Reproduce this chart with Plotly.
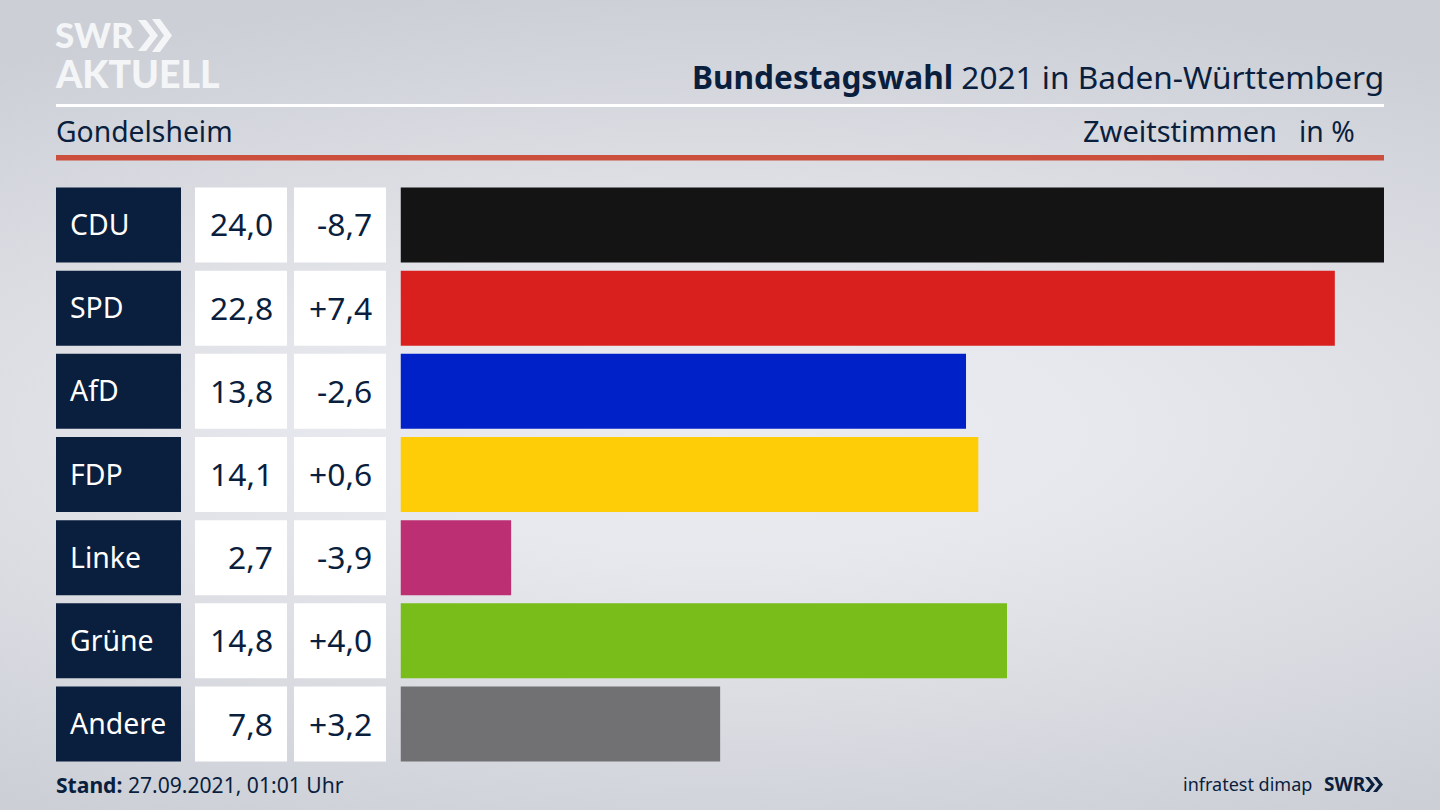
import base64
import plotly.graph_objects as go

parties = ["CDU", "SPD", "AfD", "FDP", "Linke", "Grüne", "Andere"]
shares = [24.0, 22.8, 13.8, 14.1, 2.7, 14.8, 7.8]
changes = [-8.7, 7.4, -2.6, 0.6, -3.9, 4.0, 3.2]
bar_colors = ["#141414", "#da201f", "#0021c8", "#ffcc08", "#bd2f73", "#78bd19", "#717173"]

W, H = 1440, 810
NAVY = "#0a1e3e"
FONT = "Noto Sans"
LOGO = "#f4f5f7"


def de(v, signed=False):
    s = f"{v:+.1f}" if signed else f"{v:.1f}"
    return s.replace(".", ",")


def px(x):
    return x / W


def py(y):
    return 1 - y / H


svg = (
    f'<svg xmlns="http://www.w3.org/2000/svg" width="{W}" height="{H}">'
    '<defs><radialGradient id="g" gradientUnits="userSpaceOnUse" cx="0" cy="0" r="1" '
    f'gradientTransform="translate(720 430) scale(1300 440)">'
    '<stop offset="0" stop-color="#ebecf0"/><stop offset="0.3" stop-color="#e7e8ed"/>'
    '<stop offset="1" stop-color="#cccfd6"/></radialGradient></defs>'
    f'<rect width="{W}" height="{H}" fill="url(#g)"/></svg>'
)
bg = "data:image/svg+xml;base64," + base64.b64encode(svg.encode()).decode()

fig = go.Figure()

# cell columns and the result bars
fig.add_bar(x=[1] * 7, y=parties, orientation="h", width=0.902, marker=dict(color=NAVY, line_width=0),
            xaxis="x2", yaxis="y", hoverinfo="skip")
fig.add_bar(x=[1] * 7, y=parties, orientation="h", width=0.902, marker=dict(color="white", line_width=0),
            xaxis="x3", yaxis="y", hoverinfo="skip")
fig.add_bar(x=[1] * 7, y=parties, orientation="h", width=0.902, marker=dict(color="white", line_width=0),
            xaxis="x4", yaxis="y", hoverinfo="skip")
fig.add_bar(x=shares, y=parties, orientation="h", width=0.902, marker=dict(color=bar_colors, line_width=0),
            xaxis="x", yaxis="y", name="Zweitstimmen")

hidden = dict(visible=False, fixedrange=True)


def rect(x0, y0, x1, y1, color):
    return dict(type="rect", xref="paper", yref="paper", x0=px(x0), x1=px(x1), y0=py(y0), y1=py(y1),
                fillcolor=color, line_width=0, layer="below")


def chevron(x, y0, y1, depth, thick, color):
    mid = (y0 + y1) / 2
    pts = [(x, y0), (x + thick, y0), (x + thick + depth, mid), (x + thick, y1), (x, y1), (x + depth, mid)]
    path = "M " + " L ".join(f"{px(a):.5f},{py(b):.5f}" for a, b in pts) + " Z"
    return dict(type="path", xref="paper", yref="paper", path=path, fillcolor=color, line_width=0)


def label(x, y, text, size, anchor="left", color=NAVY, family=FONT, weight=None):
    font = dict(family=family, size=size, color=color)
    if weight:
        font["weight"] = weight
    return dict(xref="paper", yref="paper", x=px(x), y=py(y), text=text, showarrow=False, xanchor=anchor,
                yanchor="middle", font=font, borderpad=0, borderwidth=0)


def cell(axis, x, party, text, size, anchor, color):
    return dict(xref=axis, yref="y", x=x, y=party, text=text, showarrow=False, xanchor=anchor, yanchor="middle",
                yshift=1, font=dict(family=FONT, size=size, color=color), borderpad=0, borderwidth=0)


cells = []
for p, s, c in zip(parties, shares, changes):
    cells.append(cell("x2", 0.112, p, p, 28.4, "left", "white"))
    cells.append(cell("x3", 0.85, p, de(s), 31.8, "right", NAVY))
    cells.append(cell("x4", 0.85, p, de(c, True), 31.8, "right", NAVY))

fig.update_layout(
    width=W, height=H, margin=dict(l=0, r=0, t=0, b=0), showlegend=False, barmode="overlay",
    paper_bgcolor="#dcdee3", plot_bgcolor="rgba(0,0,0,0)",
    images=[dict(source=bg, xref="paper", yref="paper", x=0, y=1, sizex=1, sizey=1, sizing="stretch",
                 xanchor="left", yanchor="top", layer="below")],
    xaxis=dict(domain=[px(400.5), px(1384)], range=[0, 24.0], **hidden),
    xaxis2=dict(domain=[px(56), px(181)], range=[0, 1], anchor="y", **hidden),
    xaxis3=dict(domain=[px(195), px(287)], range=[0, 1], anchor="y", **hidden),
    xaxis4=dict(domain=[px(294), px(386)], range=[0, 1], anchor="y", **hidden),
    yaxis=dict(domain=[py(765.6), py(183.4)], autorange="reversed", type="category", **hidden),
    shapes=[
        rect(56, 104, 1384, 107, "#ffffff"),
        rect(56, 155, 1384, 160.5, "#cb4f3c"),
        chevron(138, 20, 51, 12, 8, LOGO),
        chevron(152, 19, 52, 12, 8, LOGO),
        chevron(1365, 777, 792, 6, 4, NAVY),
        chevron(1373, 777, 792, 6, 4, NAVY),
    ],
    annotations=cells + [
        label(55, 34, "SWR", 35, color=LOGO, family="Lato", weight=900),
        label(55, 73, "AKTUELL", 37.5, color=LOGO, family="Lato", weight=900),
        label(1384, 76, "<b>Bundestagswahl</b> 2021 in Baden-Württemberg", 31.6, anchor="right"),
        label(56, 131, "Gondelsheim", 28.3),
        label(1277, 130.6, "Zweitstimmen", 29, anchor="right"),
        label(1355, 131, "in %", 28.3, anchor="right"),
        label(56, 784.5, "<b>Stand:</b> 27.09.2021, 01:01 Uhr", 21.1),
        label(1312, 784, "infratest dimap", 18, anchor="right"),
        label(1324, 784, "<b>SWR</b>", 19),
    ],
)

fig.write_html("out.html", config=dict(displayModeBar=False),
               post_script="document.body.style.margin='0';document.body.style.overflow='hidden';")
